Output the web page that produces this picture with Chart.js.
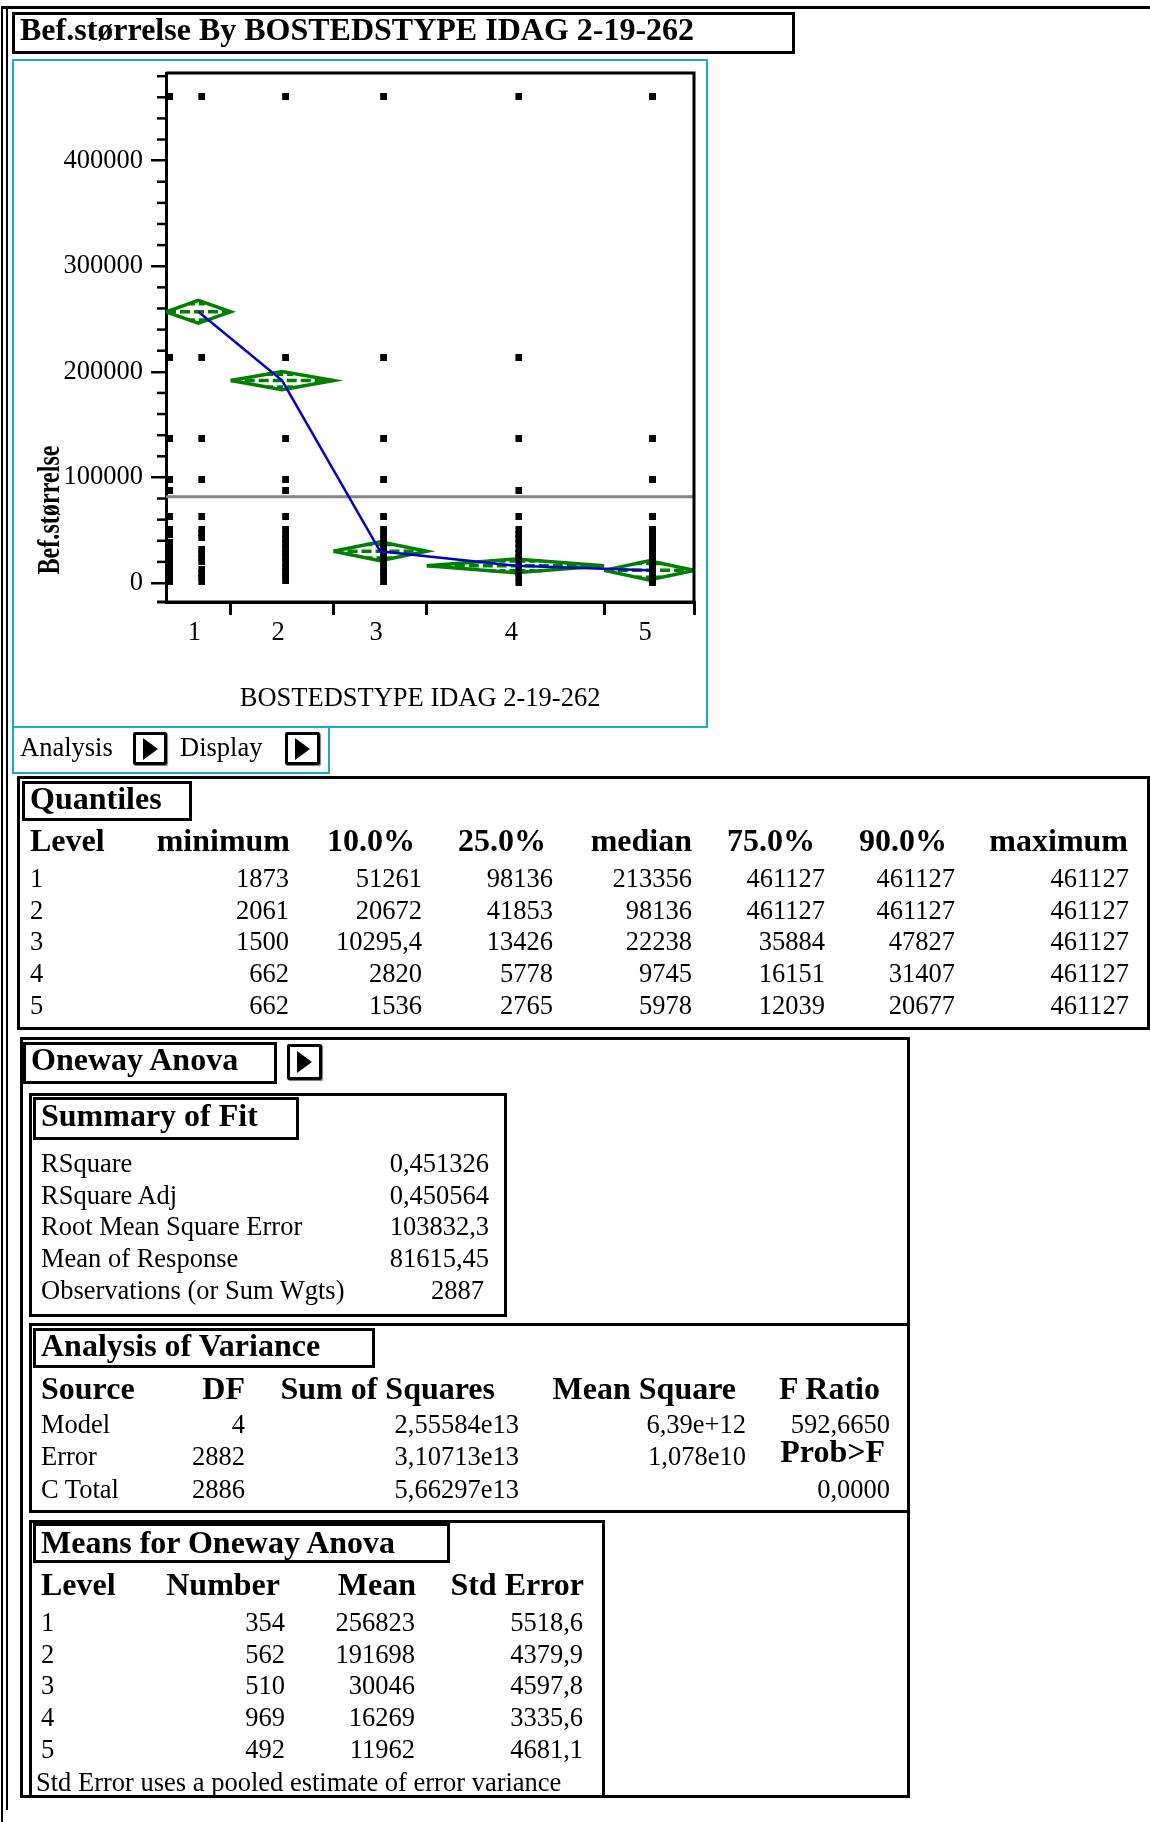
<!DOCTYPE html>
<html>
<head>
<meta charset="utf-8">
<title>Bef.størrelse By BOSTEDSTYPE IDAG 2-19-262</title>
<script src="https://cdn.jsdelivr.net/npm/chart.js@4.4.0/dist/chart.umd.min.js"></script>
<style>
  html, body { margin: 0; padding: 0; background: #fff; }
  body {
    width: 1150px; height: 1822px; position: relative; overflow: hidden;
    font-family: "Liberation Serif", "Times New Roman", serif; color: #000;
  }
  .t { position: absolute; white-space: nowrap; line-height: 1; }
  .box { position: absolute; box-sizing: border-box; border: 3px solid #000; }
  .tri { position: absolute; width: 0; height: 0;
    border-left: 15px solid #000; border-top: 11px solid transparent; border-bottom: 11px solid transparent; }
  #plotWrap { position: absolute; left: 14px; top: 61px; width: 692px; height: 665px; }
  #ytitle { position: absolute; left: 48px; top: 510px; width: 0; height: 0; }
  #ytitle span { position: absolute; left: 0; top: 0; white-space: nowrap; line-height: 1;
    font-weight: bold; font-size: 31px;
    transform: translate(-50%, -50%) rotate(-90deg) scaleX(0.78); }
</style>
</head>
<body>
<div id="plotWrap"><canvas id="oneway" width="692" height="665"></canvas></div>
<div id="ytitle"><span>Bef.størrelse</span></div>
<script>
const levels = ["1", "2", "3", "4", "5"];
const counts = [354, 562, 510, 969, 492];
const means = [256823, 191698, 30046, 16269, 11962];
const stdErrors = [5518.6, 4379.9, 4597.8, 3335.6, 4681.1];
const grandMean = 81615.45;

// individual observations (estimated from the dot columns)
const pointsEdge = [461127, 213356, 137000, 98136, 88000, 63000, 50700, 46000,
  38400, 34000, 29700, 25400, 21000, 16700, 12400, 8000, 3700, 1873];
const points1 = [461127, 213356, 137000, 98136, 63000, 50700, 47000, 43100,
  31700, 28000, 24200, 20400, 12800, 9000, 5200, 1873];
const points2 = [461127, 213356, 137000, 98136, 88000, 63000, 50700, 46200, 41700,
  37200, 32700, 28200, 23700, 19200, 14700, 10200, 5700, 2061];
const points3 = [461127, 213356, 137000, 98136, 63000, 50700, 46200, 41700, 37200,
  32700, 28200, 23700, 19200, 14700, 10200, 5700, 1500];
const points4 = [461127, 213356, 137000, 88000, 63000, 50700, 46200, 41700, 37200,
  32700, 28200, 23700, 19200, 14700, 10200, 5700, 662];
const points5 = [461127, 137000, 98136, 63000, 50700, 46500, 40500, 36200, 30500,
  26000, 21500, 17000, 12500, 8000, 3500, 662];

const yMajorTicks = [0, 100000, 200000, 300000, 400000];
const yMinorStep = 20000;

// tables
const quantileHeads = ["minimum", "10.0%", "25.0%", "median", "75.0%", "90.0%", "maximum"];
const qMinimum = ["1873", "2061", "1500", "662", "662"];
const q10 = ["51261", "20672", "10295,4", "2820", "1536"];
const q25 = ["98136", "41853", "13426", "5778", "2765"];
const qMedian = ["213356", "98136", "22238", "9745", "5978"];
const q75 = ["461127", "461127", "35884", "16151", "12039"];
const q90 = ["461127", "461127", "47827", "31407", "20677"];
const qMaximum = ["461127", "461127", "461127", "461127", "461127"];

const fitLabels = ["RSquare", "RSquare Adj", "Root Mean Square Error", "Mean of Response", "Observations (or Sum Wgts)"];
const fitValues = ["0,451326", "0,450564", "103832,3", "81615,45", "2887"];

const anovaSources = ["Model", "Error", "C Total"];
const anovaDF = ["4", "2882", "2886"];
const anovaSS = ["2,55584e13", "3,10713e13", "5,66297e13"];
const anovaMS = ["6,39e+12", "1,078e10", ""];
const fRatio = "592,6650";
const probF = "0,0000";

const meanStdErrText = ["5518,6", "4379,9", "4597,8", "3335,6", "4681,1"];

// ---- page furniture ----
function box(x1, y1, x2, y2, w, color) {
  const el = document.createElement("div");
  el.className = "box";
  el.style.left = x1 + "px";
  el.style.top = y1 + "px";
  el.style.width = (x2 - x1) + "px";
  el.style.height = (y2 - y1) + "px";
  el.style.borderWidth = (w || 3) + "px";
  if (color) el.style.borderColor = color;
  document.body.appendChild(el);
  return el;
}

function put(x, base, text, bold, right, size) {
  size = size || (bold ? 32 : 26.5);
  const el = document.createElement("div");
  el.className = "t";
  el.textContent = text;
  el.style.fontSize = size + "px";
  if (bold) el.style.fontWeight = "bold";
  el.style.top = (base - 0.8375 * size) + "px";
  if (right) {
    el.style.left = (x - 600) + "px";
    el.style.width = "600px";
    el.style.textAlign = "right";
  } else {
    el.style.left = x + "px";
  }
  document.body.appendChild(el);
}

function button(x, y, w, h) {
  const b = box(x, y, x + w, y + h, 3);
  b.style.borderRadius = "2px";
  b.style.boxShadow = "1px 1px 1px #777";
  const tri = document.createElement("div");
  tri.className = "tri";
  tri.style.left = (x + 10) + "px";
  tri.style.top = (y + Math.round(h / 2) - 11) + "px";
  document.body.appendChild(tri);
}

// outer report lines
const outer = box(1, 6, 1150, 1822, 2);
outer.style.borderRight = "none";
outer.style.borderBottom = "none";
outer.style.borderTopWidth = "3px";
const inner = document.createElement("div");
inner.style.cssText = "position:absolute;left:6px;top:8px;width:2px;height:1802px;background:#000";
document.body.appendChild(inner);

// title
box(12, 12, 795, 54, 3);
put(20, 40, "Bef.størrelse By BOSTEDSTYPE IDAG 2-19-262", true);

// blue plot frame + analysis bar
const blue = "#17a6e2";
box(12, 59, 708, 728, 2, blue);
box(12, 726, 330, 774, 2, blue);
put(20, 756, "Analysis");
button(133, 732, 34, 33);
put(180, 756, "Display");
button(285, 732, 35, 33);

// Quantiles
box(17, 776, 1150, 1030, 3);
box(22, 781, 192, 821, 3);
put(30, 809, "Quantiles", true);
put(30, 851, "Level", true);
const qHeadRight = [290, 415, 546, 692, 815, 947, 1128];
const qValRight = [289, 422, 553, 692, 825, 955, 1129];
quantileHeads.forEach((h, i) => put(qHeadRight[i], 851, h, true, true));
const qCols = [qMinimum, q10, q25, qMedian, q75, q90, qMaximum];
levels.forEach((lv, r) => {
  const base = 887 + r * 31.8;
  put(30, base, lv);
  qCols.forEach((col, c) => put(qValRight[c], base, col[r], false, true));
});

// Oneway Anova
box(20, 1037, 910, 1798, 3);
box(23, 1042, 277, 1084, 3);
put(31, 1070, "Oneway Anova", true);
button(287, 1044, 35, 36);

// Summary of Fit
box(29, 1093, 507, 1317, 3);
box(33, 1097, 299, 1140, 3);
put(41, 1126, "Summary of Fit", true);
fitLabels.forEach((lab, i) => {
  const base = 1172 + i * 31.8;
  put(41, base, lab);
  put(i === 4 ? 484 : 489, base, fitValues[i], false, true);
});

// Analysis of Variance
box(29, 1323, 910, 1513, 3);
box(33, 1328, 375, 1368, 3);
put(41, 1356, "Analysis of Variance", true);
put(41, 1399, "Source", true);
put(245, 1399, "DF", true, true);
put(495, 1399, "Sum of Squares", true, true);
put(736, 1399, "Mean Square", true, true);
put(880, 1399, "F Ratio", true, true);
anovaSources.forEach((s, i) => {
  const base = 1433 + i * 32.5;
  put(41, base, s);
  put(245, base, anovaDF[i], false, true);
  put(519, base, anovaSS[i], false, true);
  if (anovaMS[i]) put(746, base, anovaMS[i], false, true);
});
put(890, 1433, fRatio, false, true);
put(885, 1462, "Prob>F", true, true);
put(890, 1498, probF, false, true);

// Means for Oneway Anova
box(29, 1520, 605, 1798, 3);
box(33, 1523, 450, 1563, 3);
put(41, 1553, "Means for Oneway Anova", true);
put(41, 1595, "Level", true);
put(280, 1595, "Number", true, true);
put(416, 1595, "Mean", true, true);
put(584, 1595, "Std Error", true, true);
levels.forEach((lv, r) => {
  const base = 1631 + r * 31.8;
  put(41, base, lv);
  put(285, base, String(counts[r]), false, true);
  put(415, base, String(means[r]), false, true);
  put(583, base, meanStdErrText[r], false, true);
});
put(36, 1791, "Std Error uses a pooled estimate of error variance");

// ---- chart ----
const bounds = [0];
counts.forEach(n => bounds.push(bounds[bounds.length - 1] + n));
const total = bounds[bounds.length - 1];
const centers = counts.map((n, i) => bounds[i] + n / 2);
const tCrit = 1.9608;
const green = "#008000";

const yMinorTicks = [];
for (let v = yMinorStep; v <= 480000; v += yMinorStep) {
  if (!yMajorTicks.includes(v)) yMinorTicks.push(v);
}

// square marker drawn to the right of its anchor, like the report's markers
function markerImage() {
  const c = document.createElement("canvas");
  c.width = 14;
  c.height = 7;
  const g = c.getContext("2d");
  g.fillStyle = "#000";
  g.fillRect(7, 0, 7, 7);
  return c;
}
const marker = markerImage();

const datasets = [];
// connecting line of the means (drawn on top)
datasets.push({
  data: means.map((m, i) => ({ x: centers[i], y: m })),
  showLine: true, borderColor: "#0000d0", borderWidth: 2.5, pointRadius: 0
});
// observations
const dot = { pointStyle: marker, pointRadius: 3, showLine: false };
datasets.push(Object.assign({ data: pointsEdge.map(v => ({ x: 0, y: v })) }, dot));
[points1, points2, points3, points4, points5].forEach((pts, g) => {
  datasets.push(Object.assign({ data: pts.map(v => ({ x: centers[g], y: v })) }, dot));
});
// means diamonds
means.forEach((m, i) => {
  const ci = tCrit * stdErrors[i];
  const l = bounds[i], r = bounds[i + 1], c = centers[i];
  const line = { showLine: true, borderColor: green, borderWidth: 3.5, pointRadius: 0 };
  datasets.push(Object.assign({
    data: [{ x: l, y: m }, { x: c, y: m + ci }, { x: r, y: m }, { x: c, y: m - ci }, { x: l, y: m }]
  }, line));
  datasets.push(Object.assign({ data: [{ x: l, y: m }, { x: r, y: m }], borderDash: [10, 4] }, line));
  const ov = ci * Math.SQRT1_2;
  const hw = (r - l) / 2 * (1 - Math.SQRT1_2);
  datasets.push(Object.assign({ data: [{ x: c - hw, y: m + ov }, { x: c + hw, y: m + ov }], borderDash: [6, 4] }, line));
  datasets.push(Object.assign({ data: [{ x: c - hw, y: m - ov }, { x: c + hw, y: m - ov }], borderDash: [6, 4] }, line));
});
// grand mean
datasets.push({
  data: [{ x: 0, y: grandMean }, { x: total, y: grandMean }],
  showLine: true, borderColor: "#858585", borderWidth: 3, pointRadius: 0
});

const framePlugin = {
  id: "frame",
  afterDraw(chart) {
    const { ctx, chartArea: a, scales: { y } } = chart;
    ctx.save();
    ctx.strokeStyle = "#000";
    ctx.lineWidth = 3;
    ctx.beginPath();
    ctx.moveTo(a.left - 9, a.bottom);
    ctx.lineTo(a.right, a.bottom);
    ctx.moveTo(a.right, a.bottom);
    ctx.lineTo(a.right, a.top);
    ctx.lineTo(a.left, a.top);
    ctx.stroke();
    ctx.lineWidth = 2.5;
    yMinorTicks.forEach(v => {
      const py = y.getPixelForValue(v);
      ctx.beginPath();
      ctx.moveTo(a.left - 9, py);
      ctx.lineTo(a.left, py);
      ctx.stroke();
    });
    ctx.restore();
  }
};

Chart.defaults.font.family = "'Liberation Serif', 'Times New Roman', serif";
Chart.defaults.font.size = 26.5;
Chart.defaults.color = "#000";

new Chart(document.getElementById("oneway"), {
  type: "scatter",
  data: { datasets },
  options: {
    responsive: false,
    animation: false,
    layout: { padding: { top: 12, right: 12, left: 0, bottom: 0 } },
    plugins: { legend: { display: false }, tooltip: { enabled: false } },
    scales: {
      x: {
        type: "linear",
        min: 0,
        max: total,
        afterBuildTicks: (scale) => {
          scale.ticks = centers.concat(bounds.slice(1)).map(v => ({ value: v }));
        },
        afterFit: (scale) => {
          scale.height = 124;
          scale.paddingLeft = 0;
          scale.paddingRight = 0;
        },
        ticks: {
          autoSkip: false,
          maxRotation: 0,
          minRotation: 0,
          padding: 2,
          labelOffset: -4,
          font: { size: 26.5, lineHeight: 1.2 },
          callback: (v) => {
            const i = centers.indexOf(v);
            return i >= 0 ? levels[i] : "";
          }
        },
        grid: {
          drawOnChartArea: false,
          tickLength: 13,
          lineWidth: 3,
          color: (ctx) => (ctx.tick && bounds.includes(ctx.tick.value) ? "#000" : "rgba(0,0,0,0)")
        },
        border: { display: true, color: "#000", width: 3 },
        title: {
          display: true,
          text: "BOSTEDSTYPE IDAG 2-19-262   ",
          font: { size: 26.5, lineHeight: 1.2 },
          padding: { top: 0, bottom: 11 }
        }
      },
      y: {
        type: "linear",
        min: -18000,
        max: 483000,
        afterBuildTicks: (scale) => {
          scale.ticks = yMajorTicks.map(v => ({ value: v }));
        },
        afterFit: (scale) => {
          scale.width = 152;
          scale.paddingTop = 0;
          scale.paddingBottom = 0;
        },
        ticks: {
          padding: 8,
          font: { size: 26.5, lineHeight: 1.2 },
          callback: (v) => String(v)
        },
        grid: { drawOnChartArea: false, tickLength: 15, lineWidth: 2.5, color: "#000" },
        border: { display: true, color: "#000", width: 3 }
      }
    }
  },
  plugins: [framePlugin]
});
</script>
</body>
</html>
